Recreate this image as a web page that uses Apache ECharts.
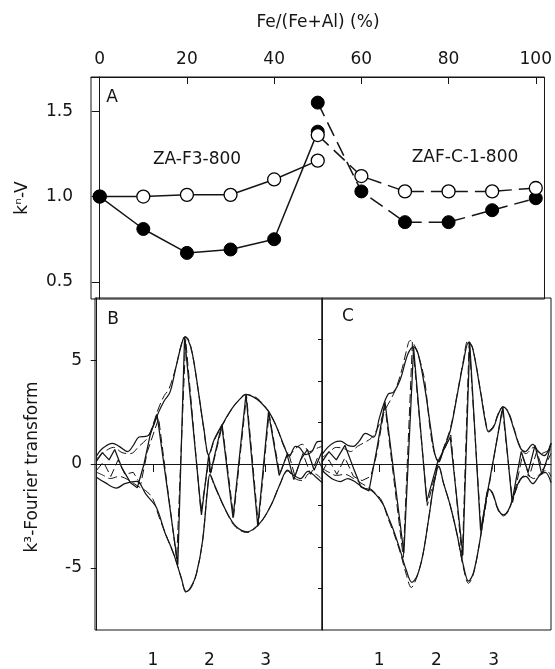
<!DOCTYPE html>
<html>
<head>
<meta charset="utf-8">
<script src="https://cdn.jsdelivr.net/npm/echarts@6/dist/echarts.min.js"></script>
<style>
  html, body { margin: 0; padding: 0; background: #fff; }
  #chart { width: 555px; height: 669px; }
</style>
</head>
<body>
<div id="chart"></div>
<script>
// Panel A: normalised k^n-V against Fe/(Fe+Al) content
const pctZA = [0, 10, 20, 30, 40, 50];
const pctZAF = [50, 60, 70, 80, 90, 100];
const zaFilled = [1.00, 0.81, 0.67, 0.69, 0.75, 1.38];
const zaOpen = [1.00, 1.00, 1.01, 1.01, 1.10, 1.21];
const zafFilled = [1.55, 1.03, 0.85, 0.85, 0.92, 0.99];
const zafOpen = [1.36, 1.12, 1.03, 1.03, 1.03, 1.05];
const pctTicks = [0, 20, 40, 60, 80, 100];
const kvTicks = [0.5, 1.0, 1.5];

// Panels B and C: k^3-weighted Fourier transforms, [R, value]
const rTicks = [1, 2, 3];
const ftTicksB = [-5, 0, 5];
const ftTicksC = [-6, -4, -2, 0, 2, 4, 6];

const bMagUp = [[0.0,0.4],[0.1,0.75],[0.28,1.0],[0.4,0.85],[0.55,0.6],[0.65,0.9],[0.75,1.3],[0.9,1.35],[1.0,1.8],[1.1,2.5],[1.2,3.05],[1.3,3.45],[1.41,4.7],[1.5,5.7],[1.56,6.1],[1.62,6.0],[1.7,5.3],[1.8,3.6],[1.9,1.75],[1.99,0.45],[2.09,1.2],[2.24,1.95],[2.41,2.7],[2.55,3.15],[2.65,3.35],[2.8,3.2],[2.9,3.0],[3.06,2.5],[3.2,1.75],[3.33,0.85],[3.42,0.37],[3.53,0.85],[3.6,0.8],[3.71,0.45],[3.82,0.6],[3.92,1.08],[4.0,1.1]];
const bMagLow = [[0.0,-0.65],[0.15,-0.9],[0.35,-1.16],[0.5,-0.95],[0.71,-0.84],[0.88,-1.48],[1.06,-2.1],[1.21,-3.3],[1.35,-4.2],[1.5,-5.47],[1.59,-6.15],[1.68,-5.9],[1.77,-5.3],[1.88,-3.7],[1.97,-1.16],[2.01,-0.5],[2.09,-1.0],[2.3,-2.28],[2.47,-3.0],[2.67,-3.27],[2.9,-2.84],[3.1,-1.96],[3.25,-1.0],[3.39,-0.29],[3.5,-0.55],[3.62,-0.7],[3.75,-0.35],[3.88,-0.6],[4.0,-0.9]];
const bFitUp = [[0.0,0.25],[0.12,0.55],[0.3,0.8],[0.45,0.55],[0.6,0.5],[0.75,0.85],[0.9,1.25],[1.0,1.9],[1.1,2.7],[1.2,3.3],[1.28,3.6],[1.41,4.7],[1.5,5.75],[1.57,6.15],[1.63,6.0],[1.7,5.3],[1.8,3.6],[1.9,1.7],[1.99,0.4],[2.09,1.15],[2.24,1.9],[2.41,2.7],[2.55,3.15],[2.65,3.35],[2.8,3.25],[2.9,3.05],[3.06,2.5],[3.2,1.75],[3.33,0.8],[3.42,0.45],[3.53,0.75],[3.65,0.95],[3.78,0.6],[3.9,0.75],[4.0,0.85]];
const bFitLow = [[0.0,-0.4],[0.12,-0.55],[0.24,-0.7],[0.4,-0.6],[0.55,-0.75],[0.72,-1.05],[0.9,-1.35],[1.0,-1.7],[1.1,-2.5],[1.2,-3.2],[1.3,-3.9],[1.4,-4.6],[1.5,-5.5],[1.59,-6.2],[1.68,-5.95],[1.77,-5.3],[1.88,-3.7],[1.97,-1.1],[2.01,-0.55],[2.09,-1.05],[2.3,-2.3],[2.47,-3.05],[2.67,-3.3],[2.9,-2.85],[3.1,-1.95],[3.25,-1.0],[3.39,-0.35],[3.52,-0.7],[3.65,-0.8],[3.78,-0.45],[3.9,-0.5],[4.0,-0.75]];
const bIm = [[0.0,0.15],[0.1,0.55],[0.22,0.2],[0.32,0.7],[0.45,-0.2],[0.6,-0.9],[0.72,-1.15],[0.84,0.0],[0.95,1.4],[1.07,2.4],[1.44,-4.85],[1.56,6.1],[1.86,-2.45],[1.99,0.45],[2.02,-0.45],[2.22,1.9],[2.42,-2.6],[2.65,3.35],[2.86,-3.0],[3.05,2.5],[3.24,-0.55],[3.38,0.45],[3.5,-0.75],[3.62,0.2],[3.74,0.7],[3.86,-0.3],[4.0,0.6]];
const bFitIm = [[0.0,-0.3],[0.12,0.1],[0.25,-0.6],[0.38,0.2],[0.5,-0.5],[0.65,-0.4],[0.78,-1.0],[0.9,0.6],[1.1,2.2],[1.42,-4.6],[1.58,6.0],[1.85,-2.3],[2.0,0.3],[2.03,-0.4],[2.23,1.85],[2.43,-2.55],[2.66,3.3],[2.87,-2.95],[3.06,2.45],[3.25,-0.5],[3.4,0.6],[3.52,-0.6],[3.66,0.5],[3.8,-0.5],[3.92,0.3],[4.0,-0.2]];

const cMagUp = [[0.0,0.45],[0.1,0.8],[0.22,1.05],[0.32,1.1],[0.45,0.9],[0.55,0.85],[0.65,1.1],[0.76,1.47],[0.9,1.3],[1.0,2.2],[1.07,2.82],[1.16,3.38],[1.25,3.46],[1.37,4.1],[1.5,5.3],[1.6,5.65],[1.68,5.3],[1.8,3.6],[1.9,1.7],[1.97,0.5],[2.04,0.1],[2.12,0.7],[2.24,1.6],[2.36,3.3],[2.47,4.9],[2.56,5.85],[2.63,5.6],[2.77,3.46],[2.85,2.1],[2.91,1.55],[3.0,1.8],[3.08,2.4],[3.16,2.75],[3.25,2.5],[3.35,1.7],[3.46,0.8],[3.55,0.6],[3.68,0.95],[3.78,0.6],[3.88,0.4],[4.0,1.0]];
const cMagLow = [[0.0,-0.3],[0.1,-0.55],[0.2,-0.75],[0.32,-0.85],[0.45,-0.7],[0.6,-0.9],[0.73,-1.16],[0.85,-1.25],[0.95,-1.5],[1.07,-1.96],[1.15,-2.5],[1.25,-3.2],[1.37,-4.2],[1.47,-5.1],[1.57,-5.7],[1.66,-5.4],[1.76,-4.4],[1.86,-2.7],[1.96,-0.9],[2.04,-0.1],[2.12,-0.9],[2.24,-2.0],[2.36,-3.4],[2.47,-4.9],[2.56,-5.65],[2.65,-5.2],[2.77,-3.5],[2.85,-2.0],[2.91,-1.2],[2.98,-1.4],[3.08,-2.2],[3.17,-2.45],[3.26,-2.2],[3.35,-1.5],[3.46,-0.75],[3.56,-0.6],[3.68,-0.95],[3.8,-0.55],[3.9,-0.4],[4.0,-0.9]];
const cFitUp = [[0.0,0.3],[0.12,0.55],[0.25,0.8],[0.38,0.75],[0.5,0.6],[0.62,0.85],[0.75,1.05],[0.88,1.3],[1.0,1.9],[1.1,2.6],[1.2,3.1],[1.3,3.7],[1.4,4.6],[1.47,5.4],[1.54,5.95],[1.62,5.7],[1.72,4.9],[1.8,3.9],[1.89,1.65],[1.97,0.45],[2.04,0.15],[2.12,0.75],[2.24,1.7],[2.36,3.35],[2.47,5.0],[2.55,5.95],[2.63,5.6],[2.77,3.5],[2.85,2.2],[2.91,1.6],[3.0,1.85],[3.08,2.45],[3.16,2.75],[3.25,2.55],[3.35,1.75],[3.46,0.85],[3.56,0.5],[3.7,0.8],[3.82,0.5],[3.92,0.6],[4.0,0.7]];
const cFitLow = [[0.0,-0.2],[0.12,-0.4],[0.25,-0.55],[0.4,-0.5],[0.55,-0.7],[0.7,-0.95],[0.85,-1.2],[0.95,-1.45],[1.05,-1.8],[1.15,-2.6],[1.25,-3.3],[1.37,-4.3],[1.47,-5.3],[1.56,-5.95],[1.65,-5.5],[1.76,-4.4],[1.86,-2.7],[1.96,-0.9],[2.04,-0.15],[2.12,-0.9],[2.24,-2.0],[2.36,-3.4],[2.47,-5.0],[2.56,-5.75],[2.65,-5.25],[2.77,-3.5],[2.85,-2.05],[2.91,-1.25],[2.98,-1.45],[3.08,-2.25],[3.17,-2.5],[3.26,-2.25],[3.35,-1.55],[3.46,-0.8],[3.56,-0.5],[3.7,-0.7],[3.82,-0.45],[3.92,-0.3],[4.0,-0.6]];
const cIm = [[0.0,0.1],[0.12,0.6],[0.25,0.2],[0.4,0.9],[0.55,-0.2],[0.68,-1.1],[0.82,-1.3],[0.95,0.6],[1.1,3.0],[1.43,-4.3],[1.6,5.6],[1.83,-1.8],[2.02,0.1],[2.24,1.3],[2.46,-4.4],[2.58,5.85],[2.77,-3.2],[3.16,2.75],[3.32,-1.8],[3.48,0.6],[3.6,-0.4],[3.72,0.9],[3.84,-0.5],[3.94,0.3],[4.0,1.0]];
const cFitIm = [[0.0,-0.4],[0.12,0.2],[0.26,-0.5],[0.4,0.3],[0.55,-0.6],[0.7,-0.8],[0.85,-0.6],[0.95,0.4],[1.1,2.8],[1.42,-4.5],[1.58,5.9],[1.84,-2.0],[2.03,0.05],[2.25,1.4],[2.45,-4.6],[2.57,5.9],[2.78,-3.3],[3.15,2.7],[3.33,-1.85],[3.5,0.4],[3.62,-0.6],[3.75,0.6],[3.86,-0.3],[4.0,0.5]];

const FONT = 'DejaVu Sans';
const INK = '#151515';
const labelStyle = { fontFamily: FONT, fontSize: 17, color: INK };

function pair(a, b) { return a.map((v, i) => [v, b[i]]); }

function panelA(name, xs, ys, filled, dashed, z) {
  return {
    name, type: 'line', xAxisIndex: 0, yAxisIndex: 0,
    data: pair(xs, ys),
    symbol: 'circle', symbolSize: 13,
    itemStyle: filled ? { color: '#000', borderColor: '#000', borderWidth: 1 }
                      : { color: '#fff', borderColor: '#000', borderWidth: 1.3 },
    lineStyle: { color: INK, width: 1.5, type: dashed ? [15, 7] : 'solid' },
    animation: false, z
  };
}

function ftLine(data, axis, fit, smooth) {
  return {
    type: 'line', xAxisIndex: axis, yAxisIndex: axis,
    data, symbol: 'none', smooth: smooth ? 0.35 : false,
    lineStyle: { color: INK, width: fit ? 1.0 : 1.25, type: fit ? [9, 4] : 'solid' },
    clip: true, animation: false
  };
}

function zeroLine(axis) {
  return {
    type: 'line', xAxisIndex: axis, yAxisIndex: axis, data: [],
    markLine: {
      silent: true, symbol: 'none', label: { show: false },
      lineStyle: { color: INK, width: 1, type: 'solid' },
      data: [{ yAxis: 0 }]
    },
    animation: false
  };
}

function label(text, x, y, rotated) {
  return {
    type: 'text', x, y, rotation: rotated ? Math.PI / 2 : 0,
    style: { text, font: '17px "DejaVu Sans"', fill: INK, align: 'center', verticalAlign: 'middle' }
  };
}

const frame = { show: true, borderColor: INK, borderWidth: 1, backgroundColor: 'transparent' };

const option = {
  backgroundColor: '#fff',
  animation: false,
  grid: [
    Object.assign({ left: 91, top: 77, width: 456, height: 222 }, frame),
    Object.assign({ left: 95, top: 298, width: 227, height: 335 }, frame),
    Object.assign({ left: 322, top: 298, width: 229, height: 334 }, frame)
  ],
  xAxis: [
    { gridIndex: 0, type: 'value', position: 'top', min: -2, max: 102,
      axisLine: { lineStyle: { color: INK } },
      axisTick: { inside: true, length: 7, customValues: pctTicks, lineStyle: { color: INK } },
      axisLabel: Object.assign({ customValues: pctTicks, margin: 9 }, labelStyle),
      splitLine: { show: false } },
    { gridIndex: 1, type: 'value', min: -0.03, max: 4,
      axisLine: { lineStyle: { color: INK } },
      axisTick: { length: 8, customValues: rTicks, lineStyle: { color: INK } },
      axisLabel: Object.assign({ customValues: rTicks, margin: 22 }, labelStyle),
      splitLine: { show: false } },
    { gridIndex: 2, type: 'value', min: 0, max: 4,
      axisLine: { lineStyle: { color: INK } },
      axisTick: { length: 8, customValues: rTicks, lineStyle: { color: INK } },
      axisLabel: Object.assign({ customValues: rTicks, margin: 22 }, labelStyle),
      splitLine: { show: false } }
  ],
  yAxis: [
    { gridIndex: 0, type: 'value', min: 0.4, max: 1.7,
      axisLine: { lineStyle: { color: INK } },
      axisTick: { length: 8, customValues: kvTicks, lineStyle: { color: INK } },
      axisLabel: Object.assign({ customValues: kvTicks, margin: 18,
        formatter: v => v.toFixed(1) }, labelStyle),
      splitLine: { show: false } },
    { gridIndex: 1, type: 'value', min: -8, max: 8,
      axisLine: { lineStyle: { color: INK } },
      axisTick: { length: 6, customValues: ftTicksB, lineStyle: { color: INK } },
      axisLabel: Object.assign({ customValues: ftTicksB, margin: 13 }, labelStyle),
      splitLine: { show: false } },
    { gridIndex: 2, type: 'value', min: -8, max: 8,
      axisLine: { lineStyle: { color: INK } },
      axisTick: { length: 4, customValues: ftTicksC, lineStyle: { color: INK } },
      axisLabel: { show: false },
      splitLine: { show: false } }
  ],
  graphic: [
    label('Fe/(Fe+Al) (%)', 318, 23, false),
    label('k\u207F-V', 23, 198, true),
    label('k\u00B3-Fourier transform', 33, 467, true),
    label('A', 112, 98, false),
    label('B', 113, 320, false),
    label('C', 348, 317, false),
    label('ZA-F3-800', 197, 160, false),
    label('ZAF-C-1-800', 465, 158, false)
  ],
  series: [
    panelA('ZA-F3-800 open', pctZA, zaOpen, false, false, 3),
    panelA('ZA-F3-800 filled', pctZA, zaFilled, true, false, 4),
    panelA('ZAF-C-1-800 filled', pctZAF, zafFilled, true, true, 4),
    panelA('ZAF-C-1-800 open', pctZAF, zafOpen, false, true, 5),

    zeroLine(1),
    ftLine(bMagUp, 1, false, true),
    ftLine(bMagLow, 1, false, true),
    ftLine(bFitUp, 1, true, true),
    ftLine(bFitLow, 1, true, true),
    ftLine(bIm, 1, false, false),
    ftLine(bFitIm, 1, true, false),

    zeroLine(2),
    ftLine(cMagUp, 2, false, true),
    ftLine(cMagLow, 2, false, true),
    ftLine(cFitUp, 2, true, true),
    ftLine(cFitLow, 2, true, true),
    ftLine(cIm, 2, false, false),
    ftLine(cFitIm, 2, true, false)
  ]
};

const chart = echarts.init(document.getElementById('chart'), null, { renderer: 'canvas' });
chart.setOption(option);
</script>
</body>
</html>
